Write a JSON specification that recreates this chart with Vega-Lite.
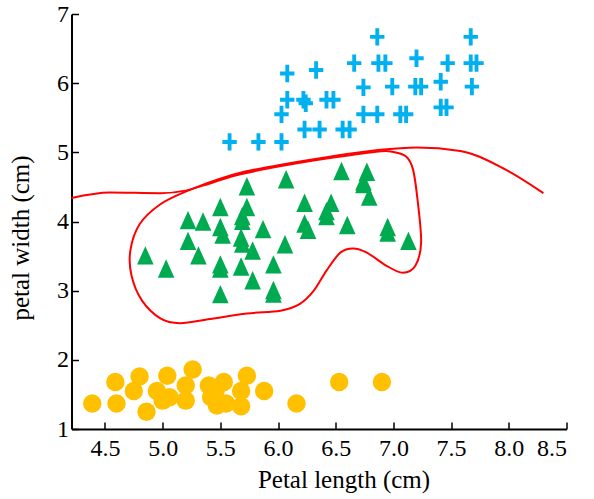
{
  "$schema": "https://vega.github.io/schema/vega-lite/v6.json",
  "autosize": "none",
  "width": 495,
  "height": 415,
  "padding": {"left": 71.5, "top": 14, "right": 27.5, "bottom": 70},
  "background": "white",
  "config": {
    "view": {"stroke": null},
    "font": "Liberation Serif",
    "axis": {
      "grid": false,
      "domainColor": "black",
      "domainWidth": 2,
      "tickColor": "black",
      "tickWidth": 1.5,
      "labelFont": "Liberation Serif",
      "labelFontSize": 24,
      "labelColor": "black",
      "titleFont": "Liberation Serif",
      "titleFontSize": 25,
      "titleFontWeight": "normal",
      "titleColor": "black"
    }
  },
  "datasets": {
    "open": [
      {"i": 0, "x": 4.21, "y": 4.34},
      {"i": 1, "x": 4.54, "y": 4.42},
      {"i": 2, "x": 4.98, "y": 4.41},
      {"i": 3, "x": 5.21, "y": 4.45},
      {"i": 4, "x": 5.41, "y": 4.57},
      {"i": 5, "x": 5.64, "y": 4.69},
      {"i": 6, "x": 5.99, "y": 4.81},
      {"i": 7, "x": 6.42, "y": 4.93},
      {"i": 8, "x": 6.85, "y": 5.03},
      {"i": 9, "x": 7.2, "y": 5.07},
      {"i": 10, "x": 7.58, "y": 5.02},
      {"i": 11, "x": 7.95, "y": 4.77},
      {"i": 12, "x": 8.3, "y": 4.41}
    ],
    "loop": [
      {"i": 0, "x": 5.21, "y": 4.44},
      {"i": 1, "x": 4.98, "y": 4.25},
      {"i": 2, "x": 4.8, "y": 3.96},
      {"i": 3, "x": 4.72, "y": 3.58},
      {"i": 4, "x": 4.73, "y": 3.22},
      {"i": 5, "x": 4.82, "y": 2.86},
      {"i": 6, "x": 4.98, "y": 2.6},
      {"i": 7, "x": 5.15, "y": 2.53},
      {"i": 8, "x": 5.41, "y": 2.59},
      {"i": 9, "x": 5.73, "y": 2.67},
      {"i": 10, "x": 6.02, "y": 2.71},
      {"i": 11, "x": 6.19, "y": 2.81},
      {"i": 12, "x": 6.31, "y": 3.0},
      {"i": 13, "x": 6.42, "y": 3.29},
      {"i": 14, "x": 6.54, "y": 3.55},
      {"i": 15, "x": 6.65, "y": 3.61},
      {"i": 16, "x": 6.77, "y": 3.55},
      {"i": 17, "x": 6.94, "y": 3.36},
      {"i": 18, "x": 7.08, "y": 3.26},
      {"i": 19, "x": 7.19, "y": 3.36},
      {"i": 20, "x": 7.24, "y": 3.7},
      {"i": 21, "x": 7.21, "y": 4.3},
      {"i": 22, "x": 7.17, "y": 4.75},
      {"i": 23, "x": 7.11, "y": 4.94},
      {"i": 24, "x": 6.99, "y": 5.01},
      {"i": 25, "x": 6.85, "y": 5.01},
      {"i": 26, "x": 6.42, "y": 4.91},
      {"i": 27, "x": 5.99, "y": 4.79},
      {"i": 28, "x": 5.64, "y": 4.67},
      {"i": 29, "x": 5.41, "y": 4.55}
    ],
    "pts": [
      {"t": "c", "x": 4.39, "y": 1.37}, {"t": "c", "x": 4.59, "y": 1.68}, {"t": "c", "x": 4.6, "y": 1.37},
      {"t": "c", "x": 4.75, "y": 1.55}, {"t": "c", "x": 4.8, "y": 1.76}, {"t": "c", "x": 4.86, "y": 1.25},
      {"t": "c", "x": 4.95, "y": 1.55}, {"t": "c", "x": 5.0, "y": 1.41}, {"t": "c", "x": 5.06, "y": 1.46},
      {"t": "c", "x": 5.04, "y": 1.77}, {"t": "c", "x": 5.2, "y": 1.63}, {"t": "c", "x": 5.2, "y": 1.41},
      {"t": "c", "x": 5.26, "y": 1.86}, {"t": "c", "x": 5.4, "y": 1.63}, {"t": "c", "x": 5.42, "y": 1.46},
      {"t": "c", "x": 5.47, "y": 1.34}, {"t": "c", "x": 5.53, "y": 1.68}, {"t": "c", "x": 5.46, "y": 1.56},
      {"t": "c", "x": 5.55, "y": 1.37}, {"t": "c", "x": 5.68, "y": 1.55}, {"t": "c", "x": 5.68, "y": 1.33},
      {"t": "c", "x": 5.73, "y": 1.77}, {"t": "c", "x": 5.88, "y": 1.55}, {"t": "c", "x": 6.16, "y": 1.37},
      {"t": "c", "x": 6.53, "y": 1.68}, {"t": "c", "x": 6.9, "y": 1.68},
      {"t": "t", "x": 4.85, "y": 3.51}, {"t": "t", "x": 5.03, "y": 3.32}, {"t": "t", "x": 5.22, "y": 4.02},
      {"t": "t", "x": 5.35, "y": 4.0}, {"t": "t", "x": 5.22, "y": 3.72}, {"t": "t", "x": 5.31, "y": 3.51},
      {"t": "t", "x": 5.5, "y": 4.21}, {"t": "t", "x": 5.5, "y": 3.92}, {"t": "t", "x": 5.52, "y": 3.81},
      {"t": "t", "x": 5.5, "y": 3.38}, {"t": "t", "x": 5.5, "y": 3.32}, {"t": "t", "x": 5.5, "y": 2.95},
      {"t": "t", "x": 5.73, "y": 4.51}, {"t": "t", "x": 5.73, "y": 4.21}, {"t": "t", "x": 5.69, "y": 4.08},
      {"t": "t", "x": 5.69, "y": 4.01}, {"t": "t", "x": 5.68, "y": 3.77}, {"t": "t", "x": 5.69, "y": 3.68},
      {"t": "t", "x": 5.78, "y": 3.58}, {"t": "t", "x": 5.68, "y": 3.35}, {"t": "t", "x": 5.78, "y": 3.15},
      {"t": "t", "x": 5.87, "y": 3.89}, {"t": "t", "x": 5.96, "y": 3.38}, {"t": "t", "x": 5.96, "y": 3.01},
      {"t": "t", "x": 5.96, "y": 2.96}, {"t": "t", "x": 6.07, "y": 4.61}, {"t": "t", "x": 6.06, "y": 3.67},
      {"t": "t", "x": 6.23, "y": 4.27}, {"t": "t", "x": 6.23, "y": 3.97}, {"t": "t", "x": 6.26, "y": 3.88},
      {"t": "t", "x": 6.46, "y": 4.27}, {"t": "t", "x": 6.42, "y": 4.15}, {"t": "t", "x": 6.42, "y": 4.08},
      {"t": "t", "x": 6.6, "y": 3.95}, {"t": "t", "x": 6.55, "y": 4.73}, {"t": "t", "x": 6.77, "y": 4.72},
      {"t": "t", "x": 6.74, "y": 4.58}, {"t": "t", "x": 6.74, "y": 4.54}, {"t": "t", "x": 6.79, "y": 4.36},
      {"t": "t", "x": 6.95, "y": 3.92}, {"t": "t", "x": 6.95, "y": 3.84}, {"t": "t", "x": 7.13, "y": 3.72},
      {"t": "p", "x": 5.58, "y": 5.15}, {"t": "p", "x": 5.83, "y": 5.15}, {"t": "p", "x": 6.03, "y": 5.15},
      {"t": "p", "x": 6.03, "y": 5.55}, {"t": "p", "x": 6.08, "y": 5.76}, {"t": "p", "x": 6.08, "y": 6.14},
      {"t": "p", "x": 6.23, "y": 5.33}, {"t": "p", "x": 6.36, "y": 5.33}, {"t": "p", "x": 6.22, "y": 5.76},
      {"t": "p", "x": 6.24, "y": 5.71}, {"t": "p", "x": 6.33, "y": 6.19}, {"t": "p", "x": 6.42, "y": 5.76},
      {"t": "p", "x": 6.48, "y": 5.76}, {"t": "p", "x": 6.56, "y": 5.33}, {"t": "p", "x": 6.62, "y": 5.33},
      {"t": "p", "x": 6.66, "y": 6.29}, {"t": "p", "x": 6.74, "y": 5.94}, {"t": "p", "x": 6.74, "y": 5.55},
      {"t": "p", "x": 6.86, "y": 5.55}, {"t": "p", "x": 6.86, "y": 6.67}, {"t": "p", "x": 6.87, "y": 6.29},
      {"t": "p", "x": 6.93, "y": 6.29}, {"t": "p", "x": 6.99, "y": 5.95}, {"t": "p", "x": 7.06, "y": 5.55},
      {"t": "p", "x": 7.11, "y": 5.55}, {"t": "p", "x": 7.2, "y": 6.36}, {"t": "p", "x": 7.19, "y": 5.95},
      {"t": "p", "x": 7.24, "y": 5.95}, {"t": "p", "x": 7.41, "y": 6.02}, {"t": "p", "x": 7.41, "y": 5.65},
      {"t": "p", "x": 7.46, "y": 5.65}, {"t": "p", "x": 7.47, "y": 6.29}, {"t": "p", "x": 7.67, "y": 6.67},
      {"t": "p", "x": 7.67, "y": 6.29}, {"t": "p", "x": 7.72, "y": 6.29}, {"t": "p", "x": 7.68, "y": 5.95}
    ]
  },
  "encoding": {
    "x": {
      "field": "x", "type": "quantitative",
      "scale": {"domain": [4.21, 8.5], "nice": false, "zero": false},
      "axis": {
        "title": "Petal length (cm)",
        "values": [4.5, 5, 5.5, 6, 6.5, 7, 7.5, 8, 8.5],
        "format": ".1f",
        "tickSize": -7,
        "labelPadding": 14,
        "titleX": 272,
        "titleY": 38
      }
    },
    "y": {
      "field": "y", "type": "quantitative",
      "scale": {"domain": [1, 7], "nice": false, "zero": false},
      "axis": {
        "title": "petal width (cm)",
        "values": [1, 2, 3, 4, 5, 6, 7],
        "format": "d",
        "tickSize": -7,
        "labelPadding": 10,
        "titleX": -38,
        "titleY": 223.5
      }
    }
  },
  "layer": [
    {
      "data": {"name": "open"},
      "mark": {"type": "line", "color": "#FF0000", "strokeWidth": 2, "interpolate": "monotone"},
      "encoding": {"order": {"field": "i", "type": "quantitative"}}
    },
    {
      "data": {"name": "loop"},
      "mark": {"type": "line", "color": "#FF0000", "strokeWidth": 2, "interpolate": "cardinal-closed"},
      "encoding": {"order": {"field": "i", "type": "quantitative"}}
    },
    {
      "data": {"name": "pts"},
      "mark": {"type": "point", "filled": true, "opacity": 1, "size": 340, "strokeWidth": 0},
      "encoding": {
        "shape": {
          "field": "t", "type": "nominal", "legend": null,
          "scale": {
            "domain": ["c", "t", "p"],
            "range": ["circle", "M0,-1L-0.9,1L0.9,1Z", "M-0.21,-0.94H0.21V-0.21H0.78V0.21H0.21V0.94H-0.21V0.21H-0.78V-0.21H-0.21Z"]
          }
        },
        "color": {
          "field": "t", "type": "nominal", "legend": null,
          "scale": {"domain": ["c", "t", "p"], "range": ["#FFC000", "#00AA50", "#00B0F0"]}
        }
      }
    }
  ]
}
